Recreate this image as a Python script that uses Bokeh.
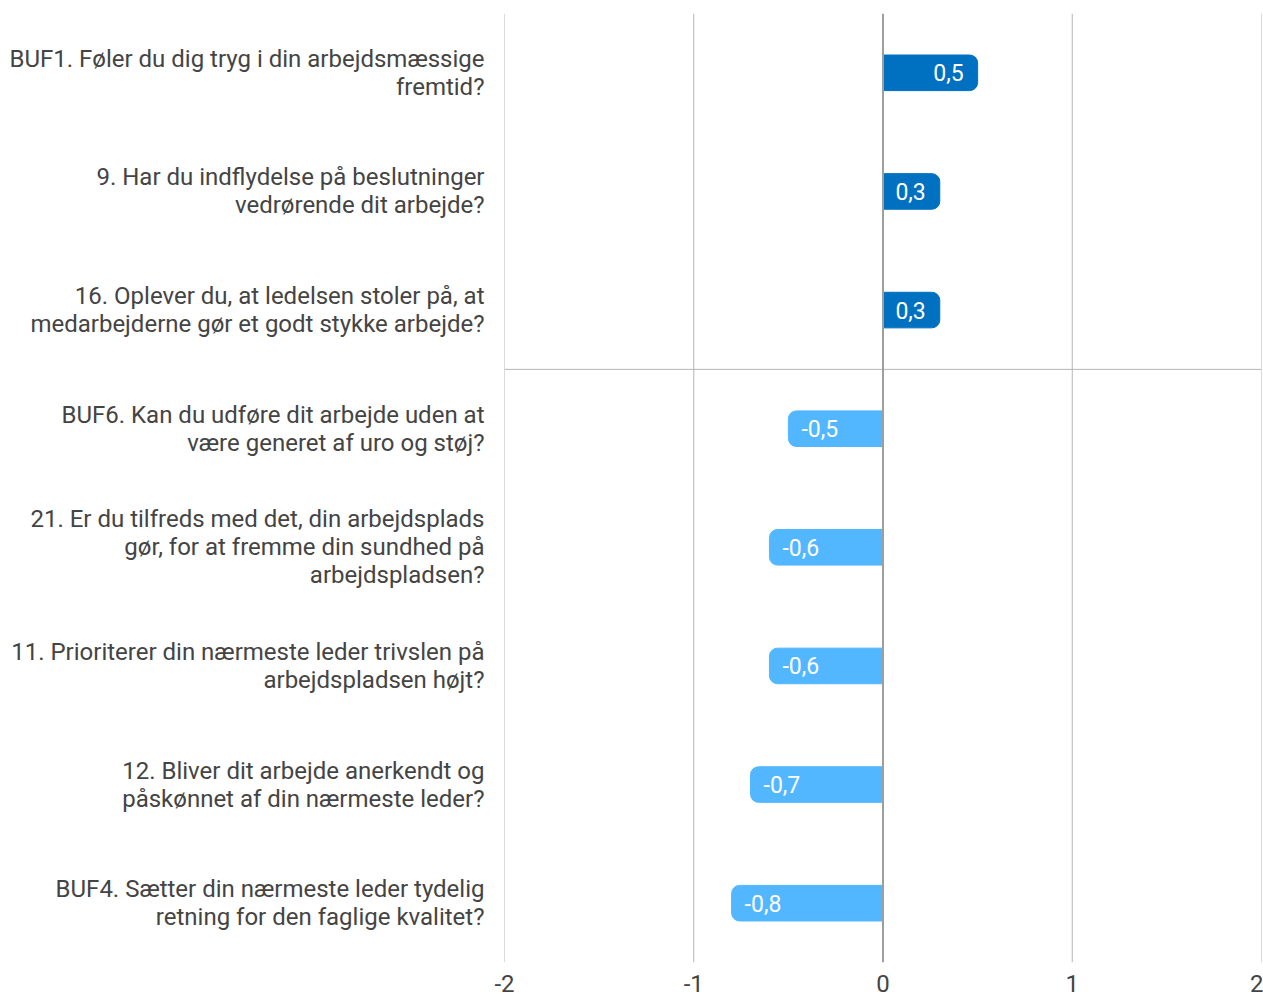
from bokeh.plotting import figure
from bokeh.models import FactorRange, Span, ColumnDataSource, FixedTicker
from bokeh.embed import file_html
from bokeh.resources import INLINE

categories = [
    "BUF1. Føler du dig tryg i din arbejdsmæssige\nfremtid?",
    "9. Har du indflydelse på beslutninger\nvedrørende dit arbejde?",
    "16. Oplever du, at ledelsen stoler på, at\nmedarbejderne gør et godt stykke arbejde?",
    "BUF6. Kan du udføre dit arbejde uden at\nvære generet af uro og støj?",
    "21. Er du tilfreds med det, din arbejdsplads\ngør, for at fremme din sundhed på\narbejdspladsen?",
    "11. Prioriterer din nærmeste leder trivslen på\narbejdspladsen højt?",
    "12. Bliver dit arbejde anerkendt og\npåskønnet af din nærmeste leder?",
    "BUF4. Sætter din nærmeste leder tydelig\nretning for den faglige kvalitet?",
]
values = [0.5, 0.3, 0.3, -0.5, -0.6, -0.6, -0.7, -0.8]
x_ticks = [-2, -1, 0, 1, 2]
x_tick_labels = ["-2", "-1", "0", "1", "2"]

POS = "#0070C0"
NEG = "#52B7FF"
GRID = "#B5B5B5"
FONT = "Roboto"

labels = [f"{v:.1f}".replace(".", ",") for v in values]
pos = ColumnDataSource(dict(
    y=[c for c, v in zip(categories, values) if v >= 0],
    x=[v for v in values if v >= 0],
    t=[l for l, v in zip(labels, values) if v >= 0],
))
neg = ColumnDataSource(dict(
    y=[c for c, v in zip(categories, values) if v < 0],
    x=[v for v in values if v < 0],
    t=[l for l, v in zip(labels, values) if v < 0],
))

p = figure(
    width=1263, height=996,
    y_range=FactorRange(factors=list(reversed(categories))),
    x_range=(-2, 2),
    output_backend="svg", toolbar_location=None,
    min_border_left=504, min_border_right=2, min_border_top=13, min_border_bottom=34,
)
p.outline_line_color = None
p.background_fill_color = "white"

# grid lines (all ticks, including the range edges)
for t in x_ticks:
    if t == 0:
        continue
    p.add_layout(Span(location=t, dimension="height", line_color=GRID,
                      line_width=1, level="underlay"))
p.add_layout(Span(location=5, dimension="width", line_color=GRID, line_width=1,
                  level="underlay"))

p.hbar(y="y", left=0, right="x", height=0.3, source=pos, color=POS,
       border_radius=(0, 8, 8, 0))
p.hbar(y="y", left="x", right=0, height=0.3, source=neg, color=NEG,
       border_radius=(8, 0, 0, 8))

p.text(x="x", y="y", text="t", source=pos, x_offset=-14, text_align="right",
       text_baseline="middle", text_color="white", text_font_size="23px",
       text_font={"value": FONT})
p.text(x="x", y="y", text="t", source=neg, x_offset=13, text_align="left",
       text_baseline="middle", text_color="white", text_font_size="23px",
       text_font={"value": FONT})

p.xgrid.grid_line_color = None
p.ygrid.grid_line_color = None

p.xaxis.ticker = FixedTicker(ticks=x_ticks)
p.xaxis.major_label_overrides = {t: l for t, l in zip(x_ticks, x_tick_labels)}
p.xaxis.axis_line_color = None
p.xaxis.major_tick_line_color = None
p.xaxis.minor_tick_line_color = None
p.xaxis.major_tick_out = 0
p.xaxis.major_tick_in = 0
p.xaxis.major_label_standoff = 12
p.xaxis.major_label_text_font = FONT
p.xaxis.major_label_text_font_size = "24px"
p.xaxis.major_label_text_color = "#444444"
p.xaxis.major_label_text_line_height = 0.75

p.yaxis.axis_line_color = None
p.yaxis.major_tick_line_color = None
p.yaxis.minor_tick_line_color = None
p.yaxis.major_tick_out = 0
p.yaxis.major_tick_in = 0
p.yaxis.major_label_standoff = 20
p.yaxis.major_label_text_font = FONT
p.yaxis.major_label_text_font_size = "24px"
p.yaxis.major_label_text_color = "#444444"
p.yaxis.major_label_text_line_height = 1.0

p.add_layout(Span(location=0, dimension="height", line_color="#9E9E9E", line_width=2))

open("out.html", "w").write(file_html(p, INLINE))
